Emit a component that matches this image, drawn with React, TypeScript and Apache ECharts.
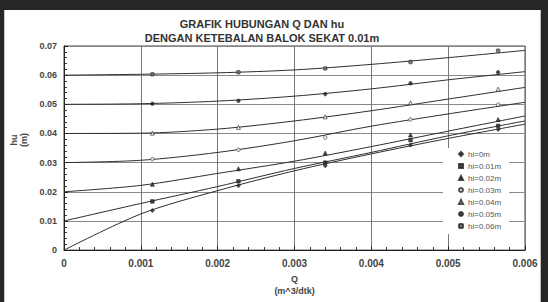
import React, { useEffect, useRef } from "react";
import * as echarts from "echarts";

// Measured points (Q in m^3/dtk, hu in m)
const Q = [0.00115, 0.00227, 0.0034, 0.00451, 0.00565];
const hi0 = [0.0136, 0.0221, 0.0289, 0.036, 0.0414];
const hi001 = [0.0167, 0.0236, 0.03, 0.0377, 0.0426];
const hi002 = [0.0226, 0.0279, 0.0333, 0.0395, 0.0448];
const hi003 = [0.0312, 0.0344, 0.0386, 0.0448, 0.0499];
const hi004 = [0.0401, 0.0421, 0.0457, 0.0505, 0.0552];
const hi005 = [0.0502, 0.0512, 0.0535, 0.0572, 0.061];
const hi006 = [0.0603, 0.061, 0.0623, 0.0645, 0.0684];

// Trend curves read at Q = 0 .. 0.006
const trendQ = [0, 0.001, 0.002, 0.003, 0.004, 0.005, 0.006];
const trend0 = [0, 0.0124, 0.0204, 0.0272, 0.033, 0.0383, 0.0432];
const trend001 = [0.01, 0.016, 0.0218, 0.028, 0.0335, 0.0392, 0.0443];
const trend002 = [0.02, 0.0222, 0.0263, 0.0305, 0.0355, 0.0408, 0.046];
const trend003 = [0.03, 0.0308, 0.0335, 0.0375, 0.0425, 0.0467, 0.0507];
const trend004 = [0.04, 0.0401, 0.0415, 0.0443, 0.0478, 0.0518, 0.0558];
const trend005 = [0.05, 0.0502, 0.0511, 0.0528, 0.0553, 0.0584, 0.0612];
const trend006 = [0.06, 0.0603, 0.0608, 0.0618, 0.0637, 0.066, 0.0685];

const seriesNames = ["hi=0m", "hi=0.01m", "hi=0.02m", "hi=0.03m", "hi=0.04m", "hi=0.05m", "hi=0.06m"];
const measured = [hi0, hi001, hi002, hi003, hi004, hi005, hi006];
const trends = [trend0, trend001, trend002, trend003, trend004, trend005, trend006];

const xTicks = ["0", "0.001", "0.002", "0.003", "0.004", "0.005", "0.006"];
const yTicks = ["0", "0.01", "0.02", "0.03", "0.04", "0.05", "0.06", "0.07"];

const markerStyles: any[] = [
  { symbol: "diamond", size: 4, fill: "#222" },
  { symbol: "rect", size: 3.5, fill: "#222" },
  { symbol: "triangle", size: 4, fill: "#222" },
  { symbol: "circle", size: 3.5, fill: "#fff" },
  { symbol: "triangle", size: 4, fill: "#fff" },
  { symbol: "circle", size: 3.5, fill: "#222" },
  { symbol: "roundRect", size: 3.5, fill: "#666" },
];

export default function App() {
  const ref = useRef<HTMLDivElement>(null);
  useEffect(() => {
    if (!ref.current) return;
    const chart = echarts.init(ref.current, undefined, { renderer: "svg" });
    const font = "'Liberation Sans', Arial, sans-serif";
    const series: any[] = [];
    trends.forEach((t, i) => {
      series.push({
        name: "trend " + seriesNames[i],
        type: "line",
        smooth: 0.3,
        showSymbol: false,
        silent: true,
        lineStyle: { color: "#2e2e2e", width: 1 },
        data: trendQ.map((q, k) => [q, t[k]]),
        z: 2,
      });
    });
    measured.forEach((m, i) => {
      const ms = markerStyles[i];
      series.push({
        name: seriesNames[i],
        type: "scatter",
        symbol: ms.symbol,
        symbolSize: ms.size,
        itemStyle: { color: ms.fill, borderColor: "#222", borderWidth: 0.8 },
        data: Q.map((q, k) => [q, m[k]]),
        z: 3,
      });
    });
    chart.setOption({
      animation: false,
      backgroundColor: "transparent",
      title: {
        text: "GRAFIK HUBUNGAN Q DAN hu\nDENGAN KETEBALAN BALOK SEKAT 0.01m",
        left: 257,
        top: 12,
        textAlign: "center",
        textStyle: {
          fontFamily: font,
          fontSize: 11,
          fontWeight: "bold",
          lineHeight: 14,
          color: "#333",
        },
      },
      grid: {
        left: 64,
        right: 23,
        top: 46,
        bottom: 48,
        show: true,
        borderColor: "#444",
        borderWidth: 1,
        backgroundColor: "transparent",
      },
      legend: {
        orient: "vertical",
        left: 443,
        top: 148,
        padding: [1, 8, 3, 15],
        backgroundColor: "#fff",
        itemWidth: 4,
        itemHeight: 4,
        itemGap: 2,
        data: seriesNames,
        textStyle: { fontFamily: font, fontSize: 8, color: "#555", lineHeight: 10 },
        z: 10,
      },
      xAxis: {
        type: "value",
        min: 0,
        max: 0.006,
        interval: 0.001,
        name: "Q\n(m^3/dtk)",
        nameLocation: "middle",
        nameGap: 18,
        nameTextStyle: { fontFamily: font, fontSize: 9, fontWeight: "bold", color: "#444", lineHeight: 12 },
        axisLine: { show: true, lineStyle: { color: "#222", width: 1 } },
        axisTick: { show: true, inside: true, length: 4, lineStyle: { color: "#222" } },
        minorTick: { show: true, splitNumber: 5, length: 3, lineStyle: { color: "#333" } },
        axisLabel: {
          margin: 8,
          fontFamily: font,
          fontSize: 10,
          fontWeight: "bold",
          color: "#444",
          formatter: (v: number) => xTicks[Math.round(v / 0.001)] ?? "",
        },
        splitLine: { show: true, lineStyle: { color: "#777", width: 1 } },
      },
      yAxis: {
        type: "value",
        min: 0,
        max: 0.07,
        interval: 0.01,
        axisLine: { show: true, lineStyle: { color: "#222", width: 1 } },
        axisTick: { show: true, inside: true, length: 4, lineStyle: { color: "#222" } },
        minorTick: { show: true, splitNumber: 5, length: 3, lineStyle: { color: "#333" } },
        axisLabel: {
          margin: 7,
          fontFamily: font,
          fontSize: 9,
          fontWeight: "bold",
          color: "#444",
          formatter: (v: number) => yTicks[Math.round(v / 0.01)] ?? "",
        },
        splitLine: { show: true, lineStyle: { color: "#888", width: 1 } },
      },
      graphic: [
        {
          type: "text",
          x: 19,
          y: 140,
          rotation: Math.PI / 2,
          style: {
            text: "hu\n(m)",
            fontFamily: font,
            fontSize: 9,
            fontWeight: "bold",
            fill: "#444",
            align: "center",
            verticalAlign: "middle",
            lineHeight: 10,
          },
        },
      ],
      series,
    });
    return () => chart.dispose();
  }, []);

  return (
    <div style={{ position: "fixed", left: 0, top: 0, width: 548, height: 302, background: "#262626", overflow: "hidden" }}>
      <div style={{ position: "absolute", left: 4, top: 10, width: 537, height: 292, background: "#fff", borderLeft: "1px solid #ccc", borderRight: "1px solid #bbb", boxSizing: "border-box" }} />
      <div ref={ref} style={{ position: "absolute", left: 0, top: 0, width: 548, height: 302 }} />
    </div>
  );
}
